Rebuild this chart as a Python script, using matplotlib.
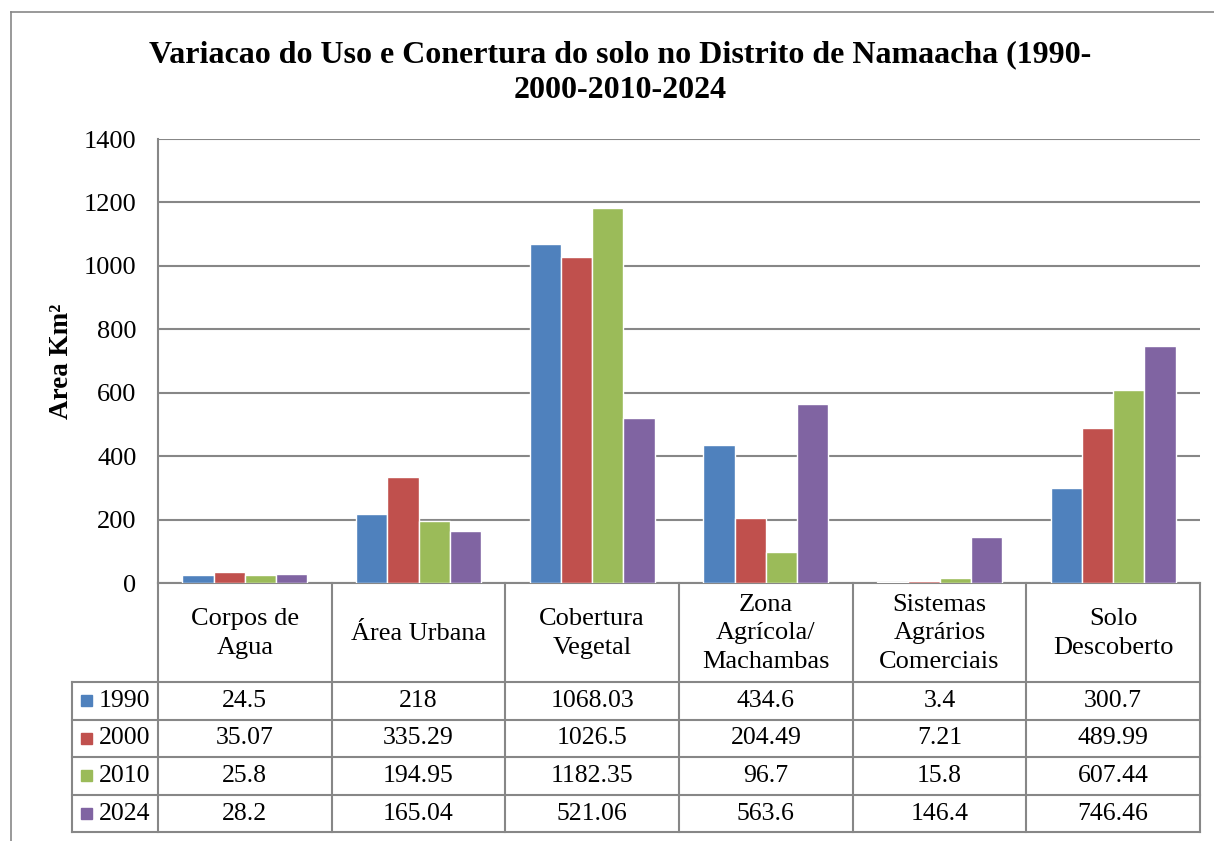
import matplotlib
matplotlib.use("Agg")
import matplotlib.pyplot as plt
import numpy as np
from matplotlib.lines import Line2D

categories = ["Corpos de\nAgua", "Área Urbana", "Cobertura\nVegetal",
              "Zona\nAgrícola/\nMachambas", "Sistemas\nAgrários\nComerciais", "Solo\nDescoberto"]
years = ["1990", "2000", "2010", "2024"]
v1990 = [24.5, 218, 1068.03, 434.6, 3.4, 300.7]
v2000 = [35.07, 335.29, 1026.5, 204.49, 7.21, 489.99]
v2010 = [25.8, 194.95, 1182.35, 96.7, 15.8, 607.44]
v2024 = [28.2, 165.04, 521.06, 563.6, 146.4, 746.46]
labels1990 = ["24.5", "218", "1068.03", "434.6", "3.4", "300.7"]
labels2000 = ["35.07", "335.29", "1026.5", "204.49", "7.21", "489.99"]
labels2010 = ["25.8", "194.95", "1182.35", "96.7", "15.8", "607.44"]
labels2024 = ["28.2", "165.04", "521.06", "563.6", "146.4", "746.46"]
series = [v1990, v2000, v2010, v2024]
series_labels = [labels1990, labels2000, labels2010, labels2024]
colors = ["#4F81BD", "#C0504D", "#9BBB59", "#8064A2"]
yticks = [0, 200, 400, 600, 800, 1000, 1200, 1400]

W, H = 1214, 841
plt.rcParams['font.family'] = ['Liberation Serif', 'DejaVu Serif']
fig = plt.figure(figsize=(W / 100, H / 100), dpi=100)

def fx(x):
    return x / W

def fy(y):
    return 1 - y / H

GRID = "#878787"
# outer border
fig.add_artist(Line2D([fx(11), fx(1214)], [fy(12), fy(12)], color=GRID, lw=1.2))
fig.add_artist(Line2D([fx(11), fx(11)], [fy(12), fy(841)], color=GRID, lw=1.2))

x0, x1, ytop, ybot = 158, 1200, 139, 583
ax = fig.add_axes([fx(x0), fy(ybot), fx(x1 - x0), (ybot - ytop) / H])
n = len(categories)
x = np.arange(n)
bw = 0.18
for i, (vals, c) in enumerate(zip(series, colors)):
    ax.bar(x + (i - 1.5) * bw, vals, width=bw, color=c, edgecolor="white", linewidth=1.0, zorder=3)
ax.set_xlim(-0.5, n - 0.5)
ax.set_ylim(0, 1400)
ax.set_yticks(yticks)
ax.set_yticklabels([str(t) for t in yticks], fontsize=19)
ax.tick_params(axis='y', length=0, pad=15.5)
ax.set_xticks([])
ax.grid(axis='y', color=GRID, lw=1.5, zorder=0)
for s in ["top", "right"]:
    ax.spines[s].set_visible(False)
ax.spines["left"].set_color(GRID)
ax.spines["left"].set_linewidth(1.5)
ax.spines["bottom"].set_color(GRID)
ax.spines["bottom"].set_linewidth(1.5)

fig.text(fx(62), fy(361), "Area Km²", rotation=90, fontsize=19.5, fontweight="bold",
         ha="center", va="center")
fig.text(fx(620), fy(73), "Variacao do Uso e Conertura do solo no Distrito de Namaacha (1990-\n2000-2010-2024",
         ha="center", va="center", fontsize=23, fontweight="bold", linespacing=1.3)

# data table
colw = (x1 - x0) / n
col_edges = [x0 + k * colw for k in range(n + 1)]
row_edges = [583, 682, 720, 757, 795, 832]
leg_x0 = 72
def hline(y, xa, xb):
    fig.add_artist(Line2D([fx(xa), fx(xb)], [fy(y), fy(y)], color=GRID, lw=1.5))
def vline(xx, ya, yb):
    fig.add_artist(Line2D([fx(xx), fx(xx)], [fy(ya), fy(yb)], color=GRID, lw=1.5))

for r in row_edges[1:]:
    hline(r, leg_x0, x1)
for ce in col_edges:
    vline(ce, 583, 832)
vline(leg_x0, 682, 832)

for j, cat in enumerate(categories):
    cx = (col_edges[j] + col_edges[j + 1]) / 2
    fig.text(fx(cx), fy((583 + 682) / 2 + 1), cat, ha="center", va="center", fontsize=19, linespacing=1.36)
for i in range(4):
    cy = (row_edges[i + 1] + row_edges[i + 2]) / 2
    fig.add_artist(plt.Rectangle((fx(81), fy(cy + 5)), 11 / W, 11 / H, color=colors[i],
                                 transform=fig.transFigure))
    fig.text(fx(99), fy(cy), years[i], ha="left", va="center", fontsize=18.5)
    for j in range(n):
        cx = (col_edges[j] + col_edges[j + 1]) / 2
        fig.text(fx(cx), fy(cy), series_labels[i][j], ha="center", va="center", fontsize=18.5)

fig.savefig("out.png", dpi=100)
